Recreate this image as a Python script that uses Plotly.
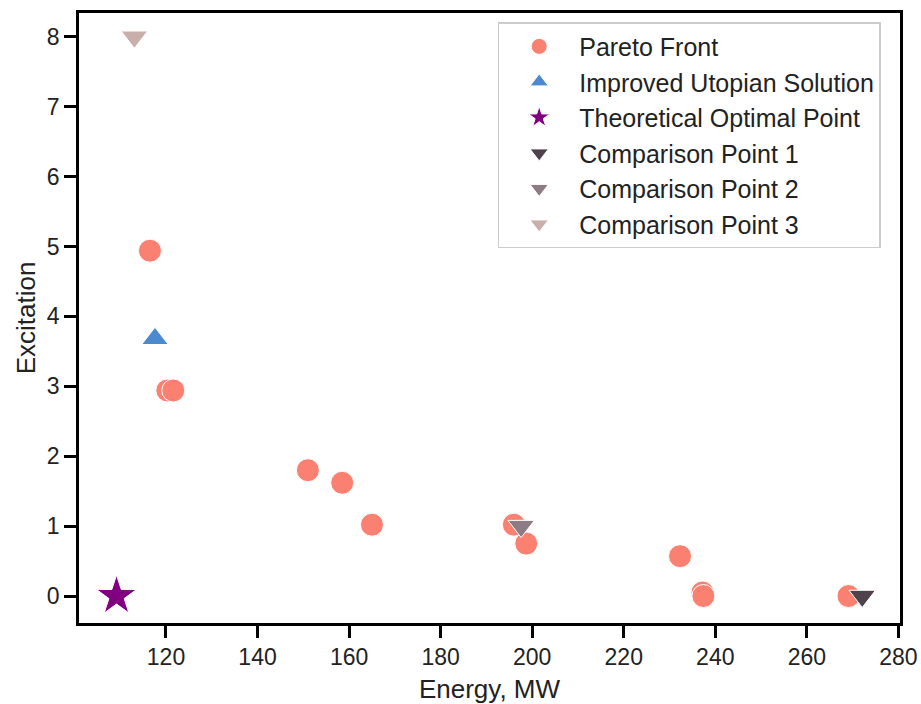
import plotly.graph_objects as go

# Data
pareto_x = [116.5, 120.3, 121.6, 151.0, 158.5, 165.0, 196.0, 198.7, 232.3, 237.2, 237.4, 269.1]
pareto_y = [4.94, 2.94, 2.94, 1.80, 1.62, 1.02, 1.02, 0.75, 0.57, 0.05, 0.0, 0.0]
utopian_x = [117.6]
utopian_y = [3.68]
optimal_x = [109.2]
optimal_y = [0.0]
comp1_x = [272.1]
comp1_y = [0.0]
comp2_x = [197.6]
comp2_y = [1.0]
comp3_x = [113.1]
comp3_y = [8.0]

x_ticks = [120, 140, 160, 180, 200, 220, 240, 260, 280]
y_ticks = [0, 1, 2, 3, 4, 5, 6, 7, 8]

fig = go.Figure()
def add(x, y, name, symbol, size, color, group):
    fig.add_trace(go.Scatter(x=x, y=y, mode="markers", name=name, legendgroup=group,
                             marker=dict(symbol=symbol, size=size, color=color,
                                         line=dict(color="white", width=1))))

add(pareto_x, pareto_y, "Pareto Front", "circle", 23, "#FA8072", "g1")
add(utopian_x, utopian_y, "Improved Utopian Solution", "triangle-up", 23, "#4C8AD0", "g2")
add(optimal_x, optimal_y, "Theoretical Optimal Point", "star", 30, "#800080", "g3")
add(comp1_x, comp1_y, "Comparison Point 1", "triangle-down", 23, "#4E424C", "g4")
add(comp2_x, comp2_y, "Comparison Point 2", "triangle-down", 23, "#8D7C83", "g5")
add(comp3_x, comp3_y, "Comparison Point 3", "triangle-down", 23, "#C9AFAB", "g6")

axis_common = dict(showgrid=False, zeroline=False, showline=True, linecolor="black", linewidth=2.5,
                   mirror=True, ticks="outside", ticklen=12, tickwidth=2.5, tickcolor="black",
                   tickfont=dict(size=23, color="#222"), automargin=False)

fig.update_layout(
    width=921, height=704,
    margin=dict(l=79, r=21, t=13, b=81),
    paper_bgcolor="white", plot_bgcolor="white",
    font=dict(family="Liberation Sans, Arial, sans-serif", color="#222"),
    showlegend=True,
    legend=dict(x=0.510, y=0.985, xanchor="left", yanchor="top",
                bgcolor="white", bordercolor="#cccccc", borderwidth=1.5,
                font=dict(size=25, color="#222"), itemsizing="trace", itemwidth=70,
                tracegroupgap=0),
    xaxis=dict(range=[101.0, 280.35], tickvals=x_ticks, ticktext=[str(v) for v in x_ticks],
               title=dict(text="Energy, MW", font=dict(size=26), standoff=12), **axis_common),
    yaxis=dict(range=[-0.386, 8.34], tickvals=y_ticks, ticktext=[str(v) for v in y_ticks],
               title=dict(text="Excitation", font=dict(size=26), standoff=4), **axis_common),
)

# Remove the default page margin so the figure fills the window exactly; hide the modebar.
fig.write_html("out.html", config={"displayModeBar": False},
               post_script="document.body.style.margin='0px';document.body.style.overflow='hidden';")
